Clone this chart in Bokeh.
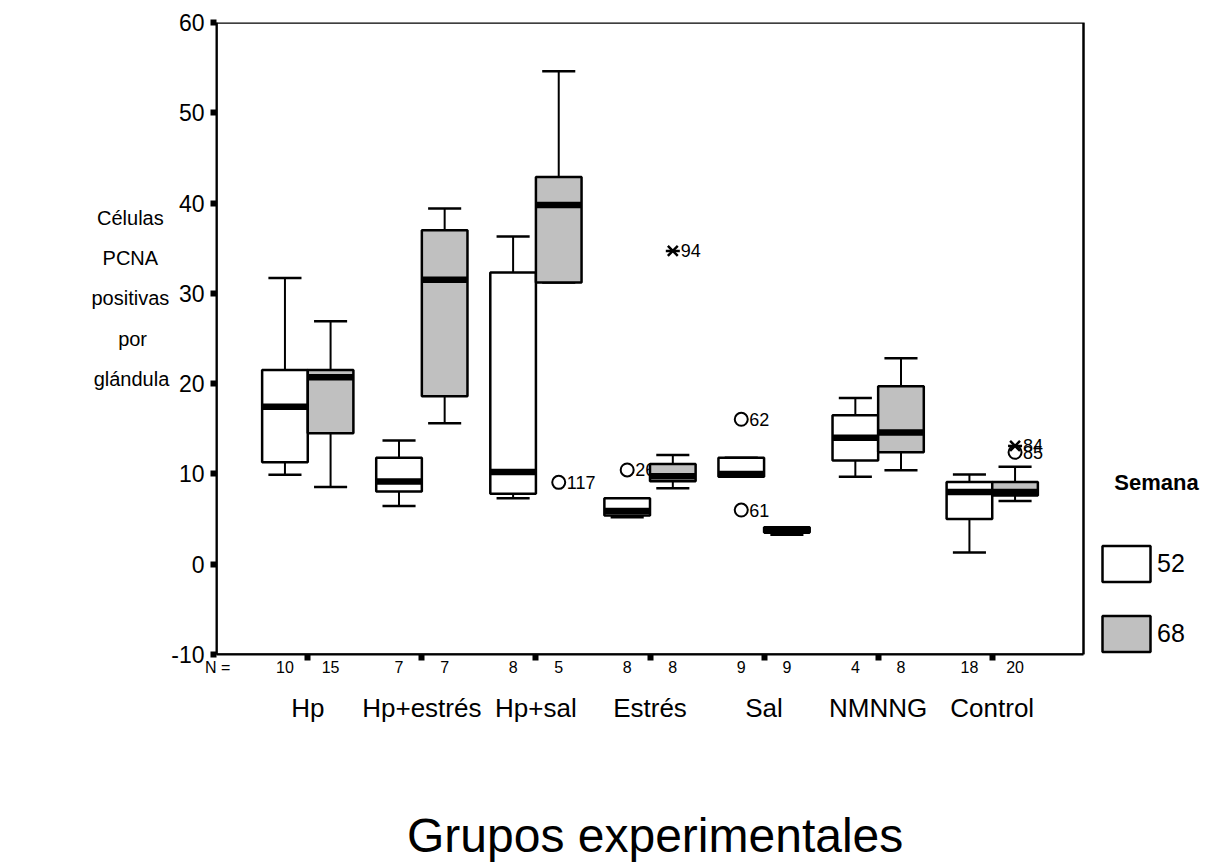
from bokeh.plotting import figure
from bokeh.models import (LinearAxis, FixedTicker, Legend, LegendItem,
                          ColumnDataSource, Range1d, BoxAnnotation)
from bokeh.core.properties import value
from bokeh.embed import file_html
from bokeh.resources import INLINE

# ---------------- data ----------------
groups = ["Hp", "Hp+estrés", "Hp+sal", "Estrés", "Sal", "NMNNG", "Control"]
n52 = [10, 7, 8, 8, 9, 4, 18]
n68 = [15, 7, 5, 8, 9, 8, 20]

lo52 = [9.9, 6.45, 7.3, 5.2, 9.7, 9.7, 1.3]
q1_52 = [11.3, 8.05, 7.8, 5.4, 9.7, 11.5, 5.0]
med52 = [17.45, 9.15, 10.2, 5.9, 10.0, 14.0, 8.0]
q3_52 = [21.5, 11.8, 32.3, 7.3, 11.8, 16.5, 9.1]
hi52 = [31.7, 13.7, 36.3, 7.3, 11.8, 18.4, 9.95]

lo68 = [8.55, 15.6, 31.2, 8.4, 3.25, 10.4, 7.0]
q1_68 = [14.5, 18.6, 31.2, 9.2, 3.5, 12.4, 7.6]
med68 = [20.7, 31.5, 39.8, 9.75, 3.7, 14.6, 8.0]
q3_68 = [21.5, 37.0, 42.9, 11.1, 4.1, 19.7, 9.1]
hi68 = [26.9, 39.4, 54.6, 12.1, 4.1, 22.8, 10.8]

out_group = [3, 4, 4, 5, 5, 7, 7]
out_week = ["68", "52", "68", "52", "52", "68", "68"]
out_val = [9.07, 10.44, 34.7, 16.05, 6.0, 13.1, 12.4]
out_label = ["117", "26", "94", "62", "61", "84", "85"]
out_kind = ["o", "o", "*", "o", "o", "*", "o"]

yticks = [-10, 0, 10, 20, 30, 40, 50, 60]
week_labels = ["52", "68"]
legend_title = "Semana"
y_title = ["Células", "PCNA", "positivas", "por", "glándula"]
n_prefix = "N ="
x_title = "Grupos experimentales"

# ---------------- layout constants ----------------
FONT = "Liberation Sans"
NBSP = "\u00a0"
HALF = 0.4      # box width in x units
CAP = 0.145     # half cap width
X0, X1 = 0.2, 7.8          # extent of the boxed plot area
Y0, Y1 = -10, 60
PLOT_L, PLOT_R, FRAME_R = 216, 1083, 1200   # px
x_end = X0 + (X1 - X0) * (FRAME_R - PLOT_L) / (PLOT_R - PLOT_L)

p = figure(width=1205, height=865, x_range=Range1d(X0, x_end), y_range=Range1d(Y0, Y1),
           x_axis_type=None, y_axis_type=None, output_backend="svg",
           toolbar_location=None, min_border_left=PLOT_L, min_border_right=1205 - FRAME_R,
           min_border_top=22, min_border_bottom=211)
p.outline_line_color = None
p.background_fill_color = "white"
p.border_fill_color = "white"

# plot area border (top and right side)
p.add_layout(BoxAnnotation(left=X0, right=X1, bottom=Y0, top=Y1, fill_alpha=0,
                           line_color="black", line_alpha=1.0, line_width=2.5))

centers = list(range(1, len(groups) + 1))

# outliers (drawn first so boxes overlap their labels like in the original)
ox = [g - HALF / 2 if w == "52" else g + HALF / 2 for g, w in zip(out_group, out_week)]
osrc = ColumnDataSource(dict(x=ox, y=out_val, t=out_label))
circ_idx = [i for i, k in enumerate(out_kind) if k == "o"]
star_idx = [i for i, k in enumerate(out_kind) if k == "*"]
csrc = ColumnDataSource(dict(x=[ox[i] for i in circ_idx], y=[out_val[i] for i in circ_idx]))
ssrc = ColumnDataSource(dict(x=[ox[i] for i in star_idx], y=[out_val[i] for i in star_idx]))
p.text(x="x", y="y", text="t", source=osrc, x_offset=8, text_baseline="middle",
       text_align="left", text_font=value(FONT), text_font_size="18px", text_color="black")
p.scatter(x="x", y="y", source=csrc, marker="circle", size=13, fill_color="white",
          line_color="black", line_width=2)
p.scatter(x="x", y="y", source=ssrc, marker="x", size=14, line_color="black", line_width=2.5)
p.scatter(x="x", y="y", source=ssrc, marker="dash", size=14, line_color="black", line_width=2.5)

def draw_boxes(offset, lo, q1, med, q3, hi, fill):
    c = [g + offset for g in centers]
    src = ColumnDataSource(dict(
        c=c, left=[x - HALF / 2 for x in c], right=[x + HALF / 2 for x in c],
        cl=[x - CAP for x in c], cr=[x + CAP for x in c],
        lo=lo, q1=q1, med=med, q3=q3, hi=hi))
    p.segment(x0="c", y0="q3", x1="c", y1="hi", source=src, line_color="black", line_width=2)
    p.segment(x0="c", y0="lo", x1="c", y1="q1", source=src, line_color="black", line_width=2)
    p.segment(x0="cl", y0="hi", x1="cr", y1="hi", source=src, line_color="black", line_width=2.5)
    p.segment(x0="cl", y0="lo", x1="cr", y1="lo", source=src, line_color="black", line_width=2.5)
    r = p.quad(left="left", right="right", bottom="q1", top="q3", source=src,
               fill_color=fill, line_color="black", line_width=2.5)
    p.segment(x0="left", y0="med", x1="right", y1="med", source=src, line_color="black",
              line_width=6.5, line_cap="butt")
    return r

r52 = draw_boxes(-HALF / 2, lo52, q1_52, med52, q3_52, hi52, "white")
r68 = draw_boxes(HALF / 2, lo68, q1_68, med68, q3_68, hi68, "#c0c0c0")

# ---------------- axes ----------------
# y title: Bokeh right-aligns the lines, so pad with nbsp to look centred
y_title_lines = [y_title[0] + NBSP, y_title[1] + NBSP * 2, y_title[2],
                 y_title[3] + NBSP * 4, y_title[4], NBSP, NBSP]

yax = LinearAxis(ticker=FixedTicker(ticks=yticks),
                 major_label_overrides={t: str(t) for t in yticks})
yax.axis_line_width = 2
yax.major_tick_out = 6
yax.major_tick_in = 0
yax.major_tick_line_width = 6
yax.minor_tick_line_color = None
yax.major_label_standoff = 6
yax.major_label_text_font = FONT
yax.major_label_text_font_size = "23px"
yax.major_label_text_color = "black"
yax.axis_label = "\n".join(y_title_lines)
yax.axis_label_orientation = "horizontal"
yax.axis_label_text_font = FONT
yax.axis_label_text_font_size = "20px"
yax.axis_label_text_font_style = "normal"
yax.axis_label_text_line_height = 1.83
yax.axis_label_text_color = "black"
yax.axis_label_standoff = -1
p.add_layout(yax, "left")

N_POS = 0.21
box_centers = [N_POS]
count_over = {N_POS: n_prefix}
for g, a, b in zip(centers, n52, n68):
    x1 = g - HALF / 2
    x2 = g + HALF / 2
    box_centers += [x1, x2]
    count_over[x1] = str(a)
    count_over[x2] = str(b)

nax = LinearAxis(ticker=FixedTicker(ticks=box_centers, minor_ticks=centers),
                 major_label_overrides=count_over, bounds=(X0, X1))
nax.axis_line_width = 2
nax.major_tick_out = 0
nax.major_tick_in = 0
nax.major_tick_line_color = None
nax.minor_tick_out = 6
nax.minor_tick_in = 0
nax.minor_tick_line_width = 6
nax.minor_tick_line_color = "black"
nax.major_label_standoff = -2
nax.major_label_text_font = FONT
nax.major_label_text_font_size = "16px"
nax.major_label_text_color = "black"
p.add_layout(nax, "below")

gax = LinearAxis(ticker=FixedTicker(ticks=centers),
                 major_label_overrides={g: name for g, name in zip(centers, groups)},
                 bounds=(X0, X1))
gax.axis_line_color = None
gax.major_tick_line_color = None
gax.minor_tick_line_color = None
gax.major_tick_out = 0
gax.major_tick_in = 0
gax.major_label_standoff = 14
gax.major_label_text_font = FONT
gax.major_label_text_font_size = "26px"
gax.major_label_text_color = "black"
# axis label is centred on the whole frame (which also holds the legend):
# trailing nbsp shift it back to the centre of the boxed plot area
gax.axis_label = x_title + NBSP * 8
gax.axis_label_standoff = 83
gax.axis_label_text_font = FONT
gax.axis_label_text_font_size = "48px"
gax.axis_label_text_font_style = "normal"
gax.axis_label_text_color = "black"
p.add_layout(gax, "below")

legend = Legend(items=[LegendItem(label=week_labels[0], renderers=[r52]),
                       LegendItem(label=week_labels[1], renderers=[r68])],
                location=(880, -2), glyph_width=60, glyph_height=45, spacing=25,
                padding=0, margin=0, label_standoff=1, label_text_font=FONT,
                label_text_font_size="25px", label_text_color="black",
                title=NBSP * 3 + legend_title, title_text_font=FONT,
                title_text_font_size="22px", title_text_font_style="bold",
                title_text_color="black", title_standoff=45,
                border_line_color=None, background_fill_alpha=0)
p.add_layout(legend)

open("out.html", "w").write(file_html(p, INLINE))
